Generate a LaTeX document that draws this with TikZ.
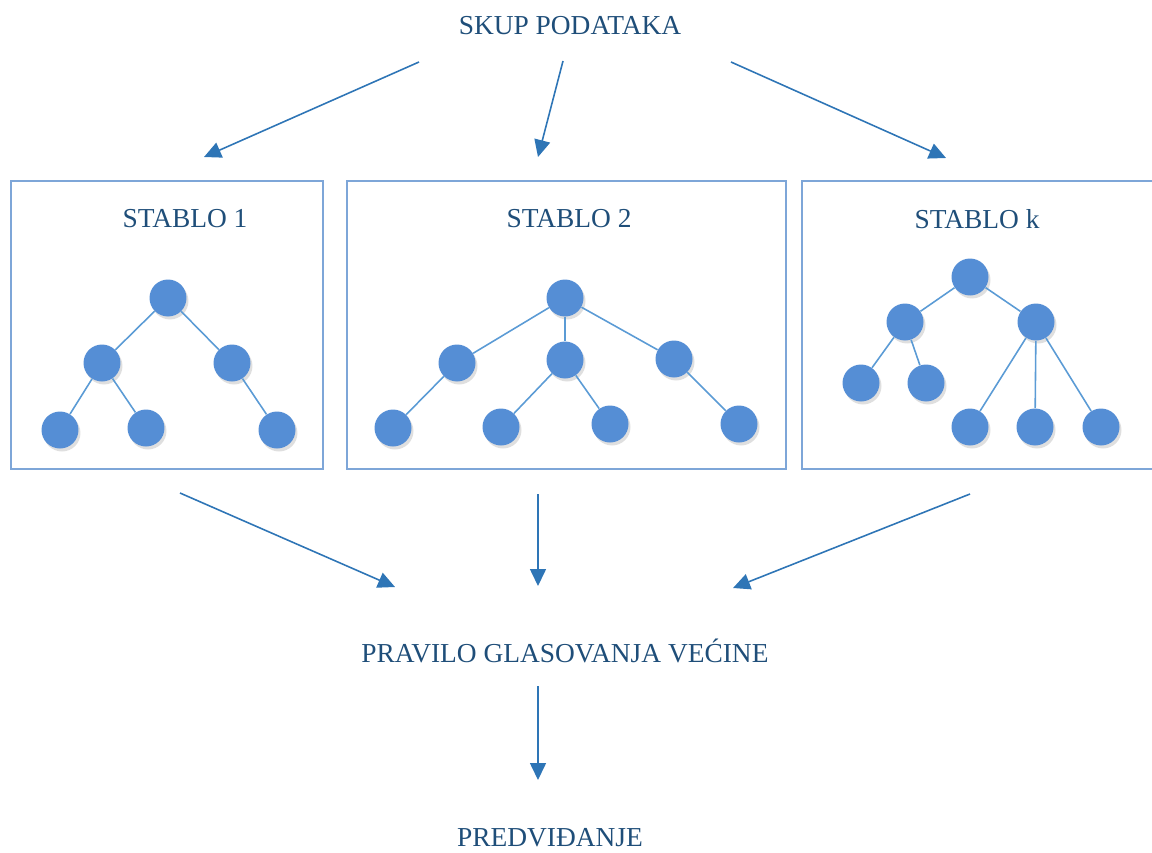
\documentclass[tikz,border=0pt]{standalone}
\usepackage{fontspec}
\setmainfont{Liberation Serif}
\usepackage{tikz}
\usetikzlibrary{arrows.meta,shadows}

\definecolor{txtblue}{HTML}{1F4E79}
\definecolor{arrblue}{HTML}{2E75B6}
\definecolor{dotblue}{HTML}{558ED5}
\definecolor{linkblue}{HTML}{5B9BD5}
\definecolor{frameblue}{HTML}{7EA6D8}

\tikzset{
  lbl/.style={text=txtblue, font=\fontsize{15.6}{18}\selectfont, inner sep=0pt},
  dot/.style={circle, fill=dotblue, minimum size=0.74cm, inner sep=0pt,
    drop shadow={opacity=0.25, shadow xshift=0.04cm, shadow yshift=-0.06cm}},
  link/.style={linkblue, line width=0.9pt},
  flow/.style={arrblue, line width=0.9pt, -{Triangle[length=0.34cm, width=0.32cm]}},
  frame/.style={frameblue, line width=0.8pt}
}

\begin{document}
\begin{tikzpicture}[x=0.02cm, y=-0.02cm]
  \useasboundingbox (0,0) rectangle (1152,852);

  % labels
  \node[lbl] (data) at (570,26) {SKUP PODATAKA};
  \node[lbl] (vote) at (565,651) {PRAVILO GLASOVANJA VEĆINE};
  \node[lbl] (pred) at (550,838) {PREDVIĐANJE};

  % frames
  \draw[frame] (11,181) rectangle (323,469);
  \draw[frame] (347,181) rectangle (786,469);
  \draw[frame] (802,181) rectangle (1160,469);
  \node[lbl] (t1) at (185,219) {STABLO 1};
  \node[lbl] (t2) at (569,219) {STABLO 2};
  \node[lbl] (tk) at (977,219) {STABLO k};

  % tree 1
  \node[dot] (a0) at (168,298) {};
  \node[dot] (a1) at (102,363) {};
  \node[dot] (a2) at (232,363) {};
  \node[dot] (a3) at (60,430) {};
  \node[dot] (a4) at (146,428) {};
  \node[dot] (a5) at (277,430) {};
  \draw[link] (a0) -- (a1);
  \draw[link] (a0) -- (a2);
  \draw[link] (a1) -- (a3);
  \draw[link] (a1) -- (a4);
  \draw[link] (a2) -- (a5);

  % tree 2
  \node[dot] (b0) at (565,298) {};
  \node[dot] (b1) at (457,363) {};
  \node[dot] (b2) at (565,360) {};
  \node[dot] (b3) at (674,359) {};
  \node[dot] (b4) at (393,428) {};
  \node[dot] (b5) at (501,427) {};
  \node[dot] (b6) at (610,424) {};
  \node[dot] (b7) at (739,424) {};
  \draw[link] (b0) -- (b1);
  \draw[link] (b0) -- (b2);
  \draw[link] (b0) -- (b3);
  \draw[link] (b1) -- (b4);
  \draw[link] (b2) -- (b5);
  \draw[link] (b2) -- (b6);
  \draw[link] (b3) -- (b7);

  % tree k
  \node[dot] (c0) at (970,277) {};
  \node[dot] (c1) at (905,322) {};
  \node[dot] (c2) at (1036,322) {};
  \node[dot] (c3) at (861,383) {};
  \node[dot] (c4) at (926,383) {};
  \node[dot] (c5) at (970,427) {};
  \node[dot] (c6) at (1035,427) {};
  \node[dot] (c7) at (1101,427) {};
  \draw[link] (c0) -- (c1);
  \draw[link] (c0) -- (c2);
  \draw[link] (c1) -- (c3);
  \draw[link] (c1) -- (c4);
  \draw[link] (c2) -- (c5);
  \draw[link] (c2) -- (c6);
  \draw[link] (c2) -- (c7);

  % arrows from the data set
  \coordinate (s1) at (419,62);  \coordinate (e1) at (204,157);
  \coordinate (s2) at (563,61);  \coordinate (e2) at (538,157);
  \coordinate (s3) at (731,62);  \coordinate (e3) at (946,158);
  \draw[flow] (s1) -- (e1);
  \draw[flow] (s2) -- (e2);
  \draw[flow] (s3) -- (e3);

  % arrows to the vote
  \coordinate (s4) at (180,493); \coordinate (e4) at (395,587);
  \coordinate (s5) at (538,494); \coordinate (e5) at (538,586);
  \coordinate (s6) at (970,494); \coordinate (e6) at (733,588);
  \draw[flow] (s4) -- (e4);
  \draw[flow] (s5) -- (e5);
  \draw[flow] (s6) -- (e6);

  % arrow to the prediction
  \coordinate (s7) at (538,686); \coordinate (e7) at (538,780);
  \draw[flow] (s7) -- (e7);
\end{tikzpicture}
\end{document}
